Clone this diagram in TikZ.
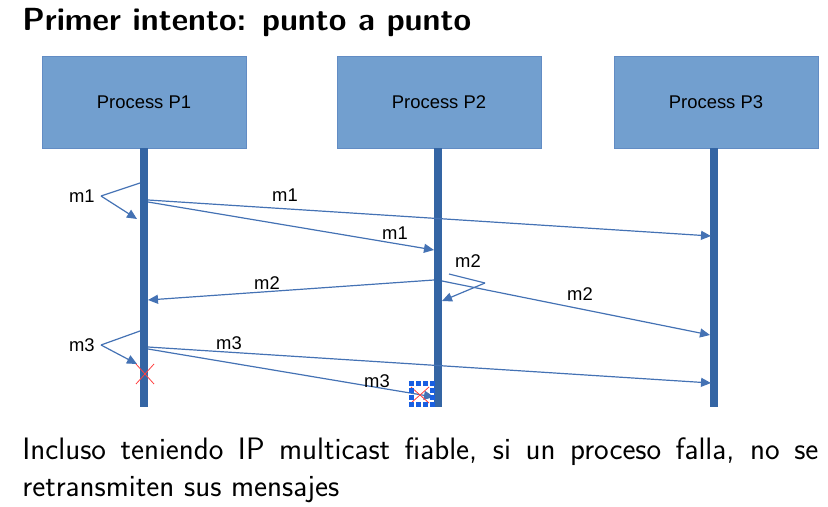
\documentclass[tikz,border=0pt]{standalone}
\usepackage{fontspec}
\usepackage{tikz}
\usetikzlibrary{arrows.meta,positioning}
\newfontfamily\arialfont{Liberation Sans}
\definecolor{boxfill}{RGB}{114,159,207}
\definecolor{boxline}{RGB}{98,140,196}
\definecolor{lifeblue}{RGB}{52,101,164}
\definecolor{msgblue}{RGB}{68,114,180}
\definecolor{handleblue}{RGB}{25,95,225}
\begin{document}
\begin{tikzpicture}[x=0.5pt,y=-0.5pt]
    \tikzset{
    proc/.style={rectangle,fill=boxfill,draw=boxline,minimum width=102pt,minimum height=46pt,inner sep=0pt,font=\arialfont\fontsize{9.2}{11}\selectfont},
    life/.style={lifeblue,line width=4pt},
    msg/.style={msgblue,line width=0.6pt,-{Triangle[length=5pt,width=4.5pt]}},
    back/.style={msgblue,line width=0.6pt},
    lbl/.style={inner sep=1pt,font=\arialfont\fontsize{9.2}{11}\selectfont},
    cross/.style={red!75,line width=0.4pt},
    handle/.style={fill=handleblue},
    }
    \useasboundingbox (0,0) rectangle (828,507);

    \node[anchor=base west,inner sep=0pt,font=\sffamily\bfseries\fontsize{16}{19}\selectfont] (title) at (22,31) {Primer intento: punto a punto};

    \node[proc] (p1) at (144,102) {Process P1};
    \node[proc] (p2) at (439,102) {Process P2};
    \node[proc] (p3) at (716,102) {Process P3};

    \coordinate (p1end) at (144,407);
    \coordinate (p2end) at (438,407);
    \coordinate (p3end) at (714,407);
    \draw[life] (p1.south) -- (p1end);
    \draw[life] (p2.south -| p2end) -- (p2end);
    \draw[life] (p3.south -| p3end) -- (p3end);

    % m1
    \coordinate (a1) at (140,183);
    \coordinate (c1) at (101,196);
    \coordinate (t1) at (137,219);
    \node[lbl,left=2pt of c1] (m1self) {m1};
    \draw[back] (a1) -- (c1);
    \draw[msg] (c1) -- (t1);
    \coordinate (s13) at (148,200);
    \coordinate (e13) at (711,236);
    \coordinate (s12) at (148,202);
    \coordinate (e12) at (434,250);
    \draw[msg] (s13) -- (e13);
    \draw[msg] (s12) -- (e12);
    \node[lbl] (m1a) at (285,195) {m1};
    \node[lbl] (m1b) at (395,233) {m1};

    % m2
    \coordinate (s21) at (434,280);
    \coordinate (e21) at (148,300);
    \coordinate (a2) at (449,274);
    \coordinate (c2) at (485,283);
    \coordinate (t2) at (442,301);
    \coordinate (s23) at (442,281);
    \coordinate (e23) at (710,335);
    \draw[msg] (s21) -- (e21);
    \draw[back] (a2) -- (c2);
    \draw[msg] (c2) -- (t2);
    \draw[msg] (s23) -- (e23);
    \node[lbl] (m2a) at (267,283) {m2};
    \node[lbl] (m2self) at (468,261) {m2};
    \node[lbl] (m2b) at (580,294) {m2};

    % m3
    \coordinate (a3) at (140,331);
    \coordinate (c3) at (101,345);
    \coordinate (t3) at (137,364);
    \node[lbl,left=2pt of c3] (m3self) {m3};
    \draw[back] (a3) -- (c3);
    \draw[msg] (c3) -- (t3);
    \coordinate (s33) at (148,347);
    \coordinate (e33) at (711,383);
    \coordinate (s32) at (148,349);
    \coordinate (e32) at (434,397);
    \draw[msg] (s33) -- (e33);
    \draw[msg] (s32) -- (e32);
    \node[lbl] (m3a) at (229,343) {m3};
    \node[lbl] (m3b) at (377,381) {m3};

    % lost
    \coordinate (x1) at (145,374);
    \coordinate (x2) at (420,395);
    \draw[cross] ([shift={(-9,-10)}]x1) -- ([shift={(9,10)}]x1);
    \draw[cross] ([shift={(-9,10)}]x1) -- ([shift={(9,-10)}]x1);
    \draw[cross] ([shift={(-9,-8)}]x2) -- ([shift={(9,8)}]x2);
    \draw[cross] ([shift={(-9,8)}]x2) -- ([shift={(9,-8)}]x2);
    \foreach \i in {0,1,2,3}{
      \foreach \j in {0,3}{
        \fill[handle] (409+7*\i,381+7*\j) rectangle ++(5,5);
        \fill[handle] (409+7*\j,381+7*\i) rectangle ++(5,5);
      }
    }

    \node[anchor=north west,inner sep=0pt,text width=398pt,align=justify,font=\sffamily\fontsize{15.5}{18.5}\selectfont] (note) at (22,437) {Incluso teniendo IP multicast fiable, si un proceso falla, no se\linebreak retransmiten sus mensajes};

\end{tikzpicture}
\end{document}
